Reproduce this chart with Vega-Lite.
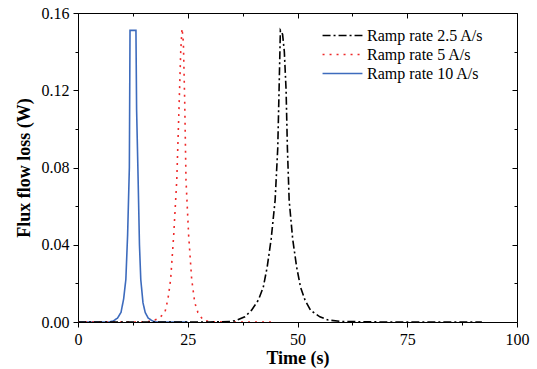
{
  "$schema": "https://vega.github.io/schema/vega-lite/v6.json",
  "width": 439,
  "height": 309,
  "autosize": {"type": "none"},
  "padding": {"left": 78, "top": 13, "right": 20, "bottom": 47},
  "background": "white",
  "config": {
    "view": {"stroke": null},
    "font": "Liberation Serif",
    "axis": {"grid": false, "domainColor": "black", "tickColor": "black", "labelColor": "black", "titleColor": "black", "labelFont": "Liberation Serif", "titleFont": "Liberation Serif", "labelFontSize": 16, "titleFontSize": 18, "titleFontWeight": "bold", "domainWidth": 1, "tickWidth": 1}
  },
  "data": {"values": [
    {"t": 0, "v": 0, "s": "Ramp rate 10 A/s"},
    {"t": 7, "v": 0, "s": "Ramp rate 10 A/s"},
    {"t": 8, "v": 0.0005, "s": "Ramp rate 10 A/s"},
    {"t": 9, "v": 0.002, "s": "Ramp rate 10 A/s"},
    {"t": 9.8, "v": 0.005, "s": "Ramp rate 10 A/s"},
    {"t": 10.4, "v": 0.012, "s": "Ramp rate 10 A/s"},
    {"t": 10.9, "v": 0.022, "s": "Ramp rate 10 A/s"},
    {"t": 11.3, "v": 0.045, "s": "Ramp rate 10 A/s"},
    {"t": 11.7, "v": 0.08, "s": "Ramp rate 10 A/s"},
    {"t": 11.85, "v": 0.151, "s": "Ramp rate 10 A/s"},
    {"t": 13.2, "v": 0.151, "s": "Ramp rate 10 A/s"},
    {"t": 13.35, "v": 0.11, "s": "Ramp rate 10 A/s"},
    {"t": 13.7, "v": 0.0735, "s": "Ramp rate 10 A/s"},
    {"t": 14.0, "v": 0.04, "s": "Ramp rate 10 A/s"},
    {"t": 14.3, "v": 0.022, "s": "Ramp rate 10 A/s"},
    {"t": 14.8, "v": 0.01, "s": "Ramp rate 10 A/s"},
    {"t": 15.3, "v": 0.005, "s": "Ramp rate 10 A/s"},
    {"t": 16, "v": 0.002, "s": "Ramp rate 10 A/s"},
    {"t": 17, "v": 0.0005, "s": "Ramp rate 10 A/s"},
    {"t": 18, "v": 0, "s": "Ramp rate 10 A/s"},
    {"t": 25, "v": 0, "s": "Ramp rate 10 A/s"},
    {"t": 0, "v": 0, "s": "Ramp rate 5 A/s"},
    {"t": 15, "v": 0, "s": "Ramp rate 5 A/s"},
    {"t": 17, "v": 0.0005, "s": "Ramp rate 5 A/s"},
    {"t": 18.5, "v": 0.002, "s": "Ramp rate 5 A/s"},
    {"t": 19.8, "v": 0.005, "s": "Ramp rate 5 A/s"},
    {"t": 20.5, "v": 0.012, "s": "Ramp rate 5 A/s"},
    {"t": 21.1, "v": 0.022, "s": "Ramp rate 5 A/s"},
    {"t": 21.8, "v": 0.045, "s": "Ramp rate 5 A/s"},
    {"t": 22.5, "v": 0.0735, "s": "Ramp rate 5 A/s"},
    {"t": 23.0, "v": 0.11, "s": "Ramp rate 5 A/s"},
    {"t": 23.4, "v": 0.14, "s": "Ramp rate 5 A/s"},
    {"t": 23.7, "v": 0.152, "s": "Ramp rate 5 A/s"},
    {"t": 24.0, "v": 0.145, "s": "Ramp rate 5 A/s"},
    {"t": 24.3, "v": 0.115, "s": "Ramp rate 5 A/s"},
    {"t": 24.6, "v": 0.0735, "s": "Ramp rate 5 A/s"},
    {"t": 25.2, "v": 0.045, "s": "Ramp rate 5 A/s"},
    {"t": 25.9, "v": 0.022, "s": "Ramp rate 5 A/s"},
    {"t": 26.6, "v": 0.01, "s": "Ramp rate 5 A/s"},
    {"t": 27.3, "v": 0.005, "s": "Ramp rate 5 A/s"},
    {"t": 28.5, "v": 0.001, "s": "Ramp rate 5 A/s"},
    {"t": 30, "v": 0.0002, "s": "Ramp rate 5 A/s"},
    {"t": 33, "v": 0, "s": "Ramp rate 5 A/s"},
    {"t": 45, "v": 0, "s": "Ramp rate 5 A/s"},
    {"t": 0, "v": 0, "s": "Ramp rate 2.5 A/s"},
    {"t": 30, "v": 0, "s": "Ramp rate 2.5 A/s"},
    {"t": 34.6, "v": 0.0002, "s": "Ramp rate 2.5 A/s"},
    {"t": 36, "v": 0.0008, "s": "Ramp rate 2.5 A/s"},
    {"t": 38, "v": 0.0027, "s": "Ramp rate 2.5 A/s"},
    {"t": 39.5, "v": 0.006, "s": "Ramp rate 2.5 A/s"},
    {"t": 41.1, "v": 0.0114, "s": "Ramp rate 2.5 A/s"},
    {"t": 42.2, "v": 0.018, "s": "Ramp rate 2.5 A/s"},
    {"t": 43.1, "v": 0.0285, "s": "Ramp rate 2.5 A/s"},
    {"t": 44.0, "v": 0.043, "s": "Ramp rate 2.5 A/s"},
    {"t": 44.9, "v": 0.063, "s": "Ramp rate 2.5 A/s"},
    {"t": 45.5, "v": 0.09, "s": "Ramp rate 2.5 A/s"},
    {"t": 45.8, "v": 0.12, "s": "Ramp rate 2.5 A/s"},
    {"t": 46.1, "v": 0.151, "s": "Ramp rate 2.5 A/s"},
    {"t": 46.6, "v": 0.149, "s": "Ramp rate 2.5 A/s"},
    {"t": 47.0, "v": 0.14, "s": "Ramp rate 2.5 A/s"},
    {"t": 47.4, "v": 0.12, "s": "Ramp rate 2.5 A/s"},
    {"t": 47.7, "v": 0.09, "s": "Ramp rate 2.5 A/s"},
    {"t": 48.1, "v": 0.063, "s": "Ramp rate 2.5 A/s"},
    {"t": 48.9, "v": 0.043, "s": "Ramp rate 2.5 A/s"},
    {"t": 49.8, "v": 0.0285, "s": "Ramp rate 2.5 A/s"},
    {"t": 50.7, "v": 0.018, "s": "Ramp rate 2.5 A/s"},
    {"t": 51.7, "v": 0.0114, "s": "Ramp rate 2.5 A/s"},
    {"t": 53, "v": 0.006, "s": "Ramp rate 2.5 A/s"},
    {"t": 55.1, "v": 0.0027, "s": "Ramp rate 2.5 A/s"},
    {"t": 57, "v": 0.001, "s": "Ramp rate 2.5 A/s"},
    {"t": 60, "v": 0.0003, "s": "Ramp rate 2.5 A/s"},
    {"t": 65, "v": 0.0001, "s": "Ramp rate 2.5 A/s"},
    {"t": 70, "v": 0, "s": "Ramp rate 2.5 A/s"},
    {"t": 92, "v": 0, "s": "Ramp rate 2.5 A/s"}
  ]},
  "layer": [
    {
      "mark": {"type": "line", "strokeWidth": 1.6, "clip": true},
      "encoding": {
        "x": {"field": "t", "type": "quantitative", "scale": {"domain": [0, 100], "nice": false, "zero": false},
          "axis": {"orient": "bottom", "title": "Time (s)", "values": [0, 12.5, 25, 37.5, 50, 62.5, 75, 87.5, 100], "format": "d",
            "labelExpr": "datum.value % 25 === 0 ? datum.label : ''",
            "tickSize": {"condition": {"test": "datum.value % 25 === 0", "value": 5}, "value": 3},
            "labelPadding": 4, "titlePadding": 2, "labelFlush": false, "labelOverlap": false}},
        "y": {"field": "v", "type": "quantitative", "scale": {"domain": [0, 0.16], "nice": false, "zero": false},
          "axis": {"orient": "left", "title": "Flux flow loss (W)", "values": [0, 0.02, 0.04, 0.06, 0.08, 0.1, 0.12, 0.14, 0.16], "format": ".2f",
            "labelExpr": "round(datum.value * 100) % 4 === 0 ? datum.label : ''",
            "tickSize": {"condition": {"test": "round(datum.value * 100) % 4 === 0", "value": 5}, "value": 3},
            "labelPadding": 4, "titlePadding": 8, "labelFlush": false, "labelOverlap": false}},
        "color": {"field": "s", "type": "nominal",
          "scale": {"domain": ["Ramp rate 2.5 A/s", "Ramp rate 5 A/s", "Ramp rate 10 A/s"], "range": ["#000000", "#ee2a2a", "#3d6bbd"]},
          "legend": {"title": null, "orient": "none", "legendX": 254, "legendY": 12, "padding": 0,
            "symbolType": "M-2.1,0H2.1", "symbolSize": 361, "symbolStrokeWidth": 1.6,
            "labelFont": "Liberation Serif", "labelFontSize": 16, "labelColor": "black", "labelOffset": 14, "rowPadding": 0}},
        "strokeDash": {"field": "s", "type": "nominal",
          "scale": {"domain": ["Ramp rate 2.5 A/s", "Ramp rate 5 A/s", "Ramp rate 10 A/s"], "range": [[8, 3, 2, 3], [2, 5], [1, 0]]},
          "legend": {"title": null, "orient": "none", "legendX": 254, "legendY": 12, "padding": 0,
            "symbolType": "M-2.1,0H2.1", "symbolSize": 361, "symbolStrokeWidth": 1.6,
            "labelFont": "Liberation Serif", "labelFontSize": 16, "labelColor": "black", "labelOffset": 14, "rowPadding": 0}}
      }
    },
    {
      "mark": {"type": "line", "opacity": 0},
      "encoding": {
        "x": {"field": "t", "type": "quantitative",
          "axis": {"orient": "top", "title": null, "labels": false, "values": [0, 12.5, 25, 37.5, 50, 62.5, 75, 87.5, 100],
            "tickSize": {"condition": {"test": "datum.value % 25 === 0", "value": -5}, "value": -3}}},
        "y": {"field": "v", "type": "quantitative",
          "axis": {"orient": "right", "title": null, "labels": false, "values": [0, 0.02, 0.04, 0.06, 0.08, 0.1, 0.12, 0.14, 0.16],
            "tickSize": {"condition": {"test": "round(datum.value * 100) % 4 === 0", "value": -5}, "value": -3}}}
      }
    }
  ],
  "resolve": {"axis": {"x": "independent", "y": "independent"}}
}
